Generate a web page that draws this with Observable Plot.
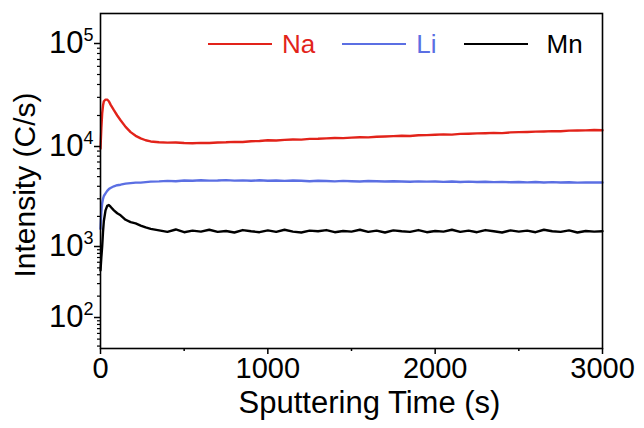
<!DOCTYPE html>
<html>
<head>
<meta charset="utf-8">
<script src="https://cdn.jsdelivr.net/npm/d3@7"></script>
<script src="https://cdn.jsdelivr.net/npm/@observablehq/plot@0.6"></script>
<style>
  html, body { margin: 0; padding: 0; background: #fff; }
  #wrap { position: relative; width: 644px; height: 428px; font-family: "Liberation Sans", Arial, sans-serif; }
  #legend { position: absolute; top: 29px; left: 208px; display: flex; align-items: center; }
  .item { display: flex; align-items: center; margin-right: 27px; }
  .sw { width: 64px; height: 2px; margin-right: 10px; }
  .lab { font-size: 26px; line-height: 30px; }
  .item:last-child .sw { margin-right: 19px; }
</style>
</head>
<body>
<div id="wrap"><div id="legend"></div></div>
<script>
// ---- data ----
const seriesNames = ["Na", "Li", "Mn"];
const seriesColors = ["#e2231a", "#5b6fe3", "#000000"];

const times = [0, 5, 10, 15, 20, 30, 40, 50, 60, 80, 100, 120, 150, 180, 210, 240, 270, 300,
  350, 400, 450, 500, 550, 600, 650, 700, 750, 800,
  850, 900, 950, 1000, 1050, 1100, 1150, 1200, 1250, 1300,
  1350, 1400, 1450, 1500, 1550, 1600, 1650, 1700, 1750, 1800,
  1850, 1900, 1950, 2000, 2050, 2100, 2150, 2200, 2250, 2300,
  2350, 2400, 2450, 2500, 2550, 2600, 2650, 2700, 2750, 2800,
  2850, 2900, 2950, 3000];

const na = [9500, 15000, 21000, 25000, 27500, 28500, 28500, 27500, 25500, 22500, 20000, 18000, 15500, 13800, 12700, 12000, 11500, 11200,
  11000, 10900, 10950, 10800, 10750, 10850, 10800, 10950, 11000, 11100,
  11050, 11250, 11300, 11500, 11450, 11600, 11700, 11650, 11850, 11900,
  12000, 12100, 12050, 12200, 12300, 12250, 12450, 12500, 12600, 12700,
  12650, 12850, 12900, 13000, 13100, 13050, 13250, 13300, 13400, 13450,
  13550, 13500, 13700, 13800, 13850, 13950, 14000, 14100, 14050, 14250,
  14300, 14350, 14450, 14400];

const li = [1500, 2200, 2700, 3000, 3200, 3400, 3600, 3750, 3850, 4000, 4100, 4150, 4250, 4300, 4350, 4350, 4400, 4450,
  4480, 4530, 4500, 4570, 4550, 4590, 4560, 4570, 4610, 4560,
  4580, 4540, 4590, 4550, 4570, 4530, 4570, 4540, 4500, 4550,
  4520, 4480, 4530, 4500, 4470, 4520, 4490, 4460, 4500, 4470,
  4440, 4480, 4450, 4470, 4430, 4460, 4420, 4450, 4410, 4440,
  4400, 4430, 4390, 4420, 4380, 4410, 4370, 4400, 4360, 4390,
  4350, 4380, 4360, 4370];

const mn = [460, 700, 1000, 1400, 1800, 2300, 2550, 2600, 2500, 2300, 2150, 2050, 1850, 1750, 1700, 1620, 1550, 1500,
  1450, 1400, 1480, 1390, 1440, 1410, 1470, 1400, 1430, 1380,
  1460, 1420, 1390, 1450, 1400, 1470, 1410, 1380, 1440, 1420,
  1460, 1390, 1430, 1410, 1470, 1400, 1440, 1380, 1450, 1420,
  1400, 1460, 1390, 1430, 1410, 1470, 1400, 1440, 1390, 1460,
  1420, 1380, 1450, 1410, 1440, 1390, 1470, 1420, 1400, 1450,
  1380, 1430, 1410, 1420];

const xTicks = [0, 1000, 2000, 3000];
const xMinorTicks = [500, 1500, 2500];
const yTicks = [1e2, 1e3, 1e4, 1e5];
const xTitle = "Sputtering Time (s)";
const yTitle = "Intensity (C/s)";

// ---- build table ----
const seriesValues = [na, li, mn];
const rows = [];
seriesNames.forEach((name, k) => {
  times.forEach((t, i) => rows.push({ t, v: seriesValues[k][i], s: name }));
});

// minor log ticks
const yMinorTicks = [];
for (let e = 1; e <= 5; e++) for (let m = 2; m <= 9; m++) {
  const v = m * Math.pow(10, e);
  if (v > 37 && v < 196000) yMinorTicks.push(v);
}

const chart = Plot.plot({
  width: 644,
  height: 428,
  marginLeft: 100,
  marginRight: 42,
  marginTop: 13,
  marginBottom: 80,
  style: { fontFamily: "'Liberation Sans', Arial, sans-serif", background: "transparent", color: "#000" },
  x: { domain: [0, 3000] },
  y: { type: "log", domain: [37, 100, 1000, 10000, 100000, 196000], range: [348, 317, 246, 146, 43, 13] },
  color: { domain: seriesNames, range: seriesColors },
  marks: [
    Plot.line(rows, { x: "t", y: "v", z: "s", stroke: "s", strokeWidth: 2.4, curve: "linear" }),
    Plot.frame({ stroke: "#000", strokeWidth: 1.6 }),
    Plot.axisX({ ticks: xTicks, tickSize: 6, tickPadding: 3, fontSize: 29, strokeWidth: 1.5, tickFormat: d => String(d), label: null }),
    Plot.axisX({ ticks: xMinorTicks, tickSize: 3, strokeWidth: 1.5, tickFormat: () => "", label: null }),
    Plot.axisY({ ticks: yTicks, tickSize: 6, tickPadding: 1, fontSize: 31, strokeWidth: 1.5, tickFormat: d => "10^" + Math.round(Math.log10(d)), label: null }),
    Plot.axisY({ ticks: yMinorTicks, tickSize: 3, strokeWidth: 1.2, tickFormat: () => "", label: null }),
    Plot.text([xTitle], { frameAnchor: "bottom", textAnchor: "middle", dx: 18, dy: 64, fontSize: 31 }),
    Plot.text([yTitle], { frameAnchor: "left", textAnchor: "middle", dx: -75, dy: 4, rotate: -90, fontSize: 30 })
  ]
});

// superscript exponents on y tick labels
chart.querySelectorAll('g[aria-label="y-axis tick label"] text').forEach(t => {
  const s = t.textContent;
  const m = s.match(/^10\^(\d+)$/);
  if (!m) return;
  t.textContent = "";
  const base = document.createElementNS("http://www.w3.org/2000/svg", "tspan");
  base.textContent = "10";
  const sup = document.createElementNS("http://www.w3.org/2000/svg", "tspan");
  sup.textContent = m[1];
  sup.setAttribute("font-size", "18");
  sup.setAttribute("dy", "-12");
  t.appendChild(base);
  t.appendChild(sup);
});

const wrap = document.getElementById("wrap");
wrap.insertBefore(chart, wrap.firstChild);

// legend
const legend = document.getElementById("legend");
seriesNames.forEach((name, i) => {
  const item = document.createElement("div");
  item.className = "item";
  const sw = document.createElement("span");
  sw.className = "sw";
  sw.style.background = seriesColors[i];
  const lab = document.createElement("span");
  lab.className = "lab";
  lab.style.color = seriesColors[i];
  lab.textContent = name;
  item.appendChild(sw);
  item.appendChild(lab);
  legend.appendChild(item);
});
</script>
</body>
</html>
